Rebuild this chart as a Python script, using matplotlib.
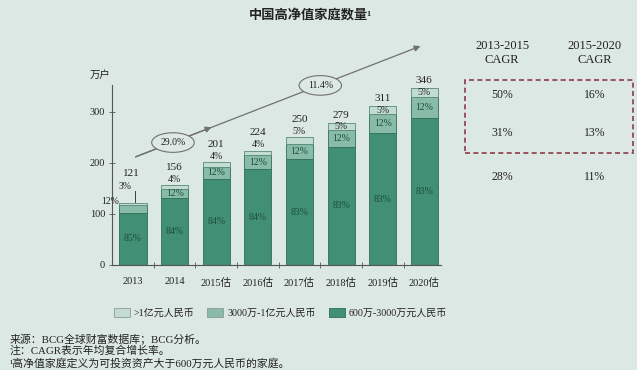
import matplotlib.pyplot as plt
from matplotlib.patches import Rectangle, Patch
import numpy as np

# data
years = ['2013', '2014', '2015估', '2016估', '2017估', '2018估', '2019估', '2020估']
totals = [121, 156, 201, 224, 250, 279, 311, 346]
pct_low = [85, 84, 84, 84, 83, 83, 83, 83]     # 600万-3000万
pct_mid = [12, 12, 12, 12, 12, 12, 12, 12]     # 3000万-1亿
pct_top = [3, 4, 4, 4, 5, 5, 5, 5]             # >1亿
legend_labels = ['>1亿元人民币', '3000万-1亿元人民币', '600万-3000万元人民币']
cagr_heads = ['2013-2015\nCAGR', '2015-2020\nCAGR']
cagr_1315 = ['50%', '31%', '28%']
cagr_1520 = ['16%', '13%', '11%']
growth_labels = ['29.0%', '11.4%']
notes = ['来源：BCG全球财富数据库；BCG分析。',
         '注：CAGR表示年均复合增长率。',
         '¹高净值家庭定义为可投资资产大于600万元人民币的家庭。']

bg = '#dce8e3'
c_low = '#418f74'
c_mid = '#88bba8'
c_top = '#c2dcd2'
txt = '#222222'
fam = ['Liberation Serif', 'Noto Sans CJK SC']
plt.rcParams['font.family'] = fam

fig = plt.figure(figsize=(6.37, 3.70), dpi=100, facecolor=bg)
ax = fig.add_axes([112/637, 105/370, 329/637, 225/370])
ax.set_facecolor(bg)

x = np.arange(len(years))
tot = np.array(totals, dtype=float)
low = tot * np.array(pct_low) / 100
mid = tot * np.array(pct_mid) / 100
top = tot - low - mid
w = 0.65
ax.bar(x, low, w, color=c_low, edgecolor='#2f6e58', linewidth=0.6)
ax.bar(x, mid, w, bottom=low, color=c_mid, edgecolor='#2f6e58', linewidth=0.6)
ax.bar(x, top, w, bottom=low + mid, color=c_top, edgecolor='#5a8a78', linewidth=0.6)

for i in range(len(years)):
    ax.text(x[i], low[i] / 2, f'{pct_low[i]}%', ha='center', va='center',
            fontsize=7, color='#1d4e3d')
    if i == 0:
        ax.text(x[i] - 0.55, low[i] + mid[i] / 2 + 14, f'{pct_mid[i]}%', ha='center',
                va='center', fontsize=7, color=txt)
        ax.text(x[i] - 0.18, tot[i] + 33, f'{pct_top[i]}%', ha='center', va='center',
                fontsize=7, color=txt)
        ax.plot([x[i] + 0.05, x[i] + 0.05], [tot[i] + 2, tot[i] + 25], color=txt, lw=0.6)
        ax.text(x[i] - 0.03, tot[i] + 59, f'{totals[i]}', ha='center', va='center',
                fontsize=8, color=txt)
        continue
    ax.text(x[i], low[i] + mid[i] / 2, f'{pct_mid[i]}%', ha='center', va='center',
            fontsize=7, color='#1d4e3d')
    if pct_top[i] >= 5 and i >= 5:
        ax.text(x[i], tot[i] - 8, f'{pct_top[i]}%', ha='center', va='center',
                fontsize=7, color=txt)
        ax.text(x[i], tot[i] + 15, f'{totals[i]}', ha='center', va='center',
                fontsize=8, color=txt)
    else:
        ax.text(x[i], tot[i] + 12, f'{pct_top[i]}%', ha='center', va='center',
                fontsize=7, color=txt)
        ax.text(x[i], tot[i] + 36, f'{totals[i]}', ha='center', va='center',
                fontsize=8, color=txt)

# growth arrow
ax.annotate('', xy=(6.97, 431), xytext=(0, 210),
            arrowprops=dict(arrowstyle='-|>', color='#707070', lw=0.9, mutation_scale=9))
ax.annotate('', xy=(1.95, 272), xytext=(0, 210),
            arrowprops=dict(arrowstyle='-|>', color='#707070', lw=0.9, mutation_scale=9))
for gx, gy, gl in [(0.96, 240, growth_labels[0]), (4.5, 352, growth_labels[1])]:
    ax.text(gx, gy, gl, ha='center', va='center', fontsize=7, color=txt,
            bbox=dict(boxstyle='ellipse,pad=0.25', fc=bg, ec='#707070', lw=0.8))

ax.set_xlim(-0.505, 7.4)
ax.set_ylim(0, 441)
for s in ['top', 'right']:
    ax.spines[s].set_visible(False)
ax.spines['left'].set_bounds(0, 352)
ax.spines['left'].set_color('#555555')
ax.spines['bottom'].set_color('#555555')
ax.set_yticks([0, 100, 200, 300])
ax.tick_params(axis='y', length=4, width=0.6, color='#555555', labelsize=7.5,
               labelcolor=txt, direction='inout', pad=3)
ax.set_xticks(x)
ax.set_xticklabels(years, fontsize=7.5, color=txt)
ax.tick_params(axis='x', length=0, pad=9)
ax.set_xticks(x[:-1] + 0.5, minor=True)
ax.tick_params(axis='x', which='minor', length=4, width=0.6, color='#555555',
               direction='inout')
ax.text(-0.55, 372, '万户', ha='right', va='center', fontsize=7.5, color=txt)

# title
fig.text(0.487, 0.958, '中国高净值家庭数量¹', ha='center', va='center', fontsize=9.5,
         fontweight='bold', color=txt)

# legend
handles = [Patch(fc=c_top, ec='#8a9a94', lw=0.6), Patch(fc=c_mid, ec='#8a9a94', lw=0.6),
           Patch(fc=c_low, ec='#2f6e58', lw=0.6)]
fig.legend(handles, legend_labels, loc='center', bbox_to_anchor=(0.44, 0.155), ncol=3,
           frameon=False, fontsize=7.2, handlelength=1.6, handleheight=1.1,
           columnspacing=1.3, handletextpad=0.4, labelcolor=txt)

# CAGR table
for cx, head, vals in [(502, cagr_heads[0], cagr_1315), (595, cagr_heads[1], cagr_1520)]:
    fig.text(cx / 637, 1 - 53 / 370, head, ha='center', va='center', fontsize=9,
             color=txt, linespacing=1.15)
    for vy, v in zip([95, 133, 177], vals):
        fig.text(cx / 637, 1 - vy / 370, v, ha='center', va='center', fontsize=8.5,
                 color=txt)
fig.patches.append(Rectangle((465 / 637, 1 - 153 / 370), 168 / 637, 73 / 370,
                             transform=fig.transFigure, fill=False, ec='#8b3a4a',
                             lw=1.2, ls=(0, (3, 2))))

# notes
for ny, n in zip([339, 351, 363], notes):
    fig.text(10 / 637, 1 - ny / 370, n, ha='left', va='center', fontsize=7.8, color=txt)

fig.savefig('out.png', dpi=100, facecolor=bg)
